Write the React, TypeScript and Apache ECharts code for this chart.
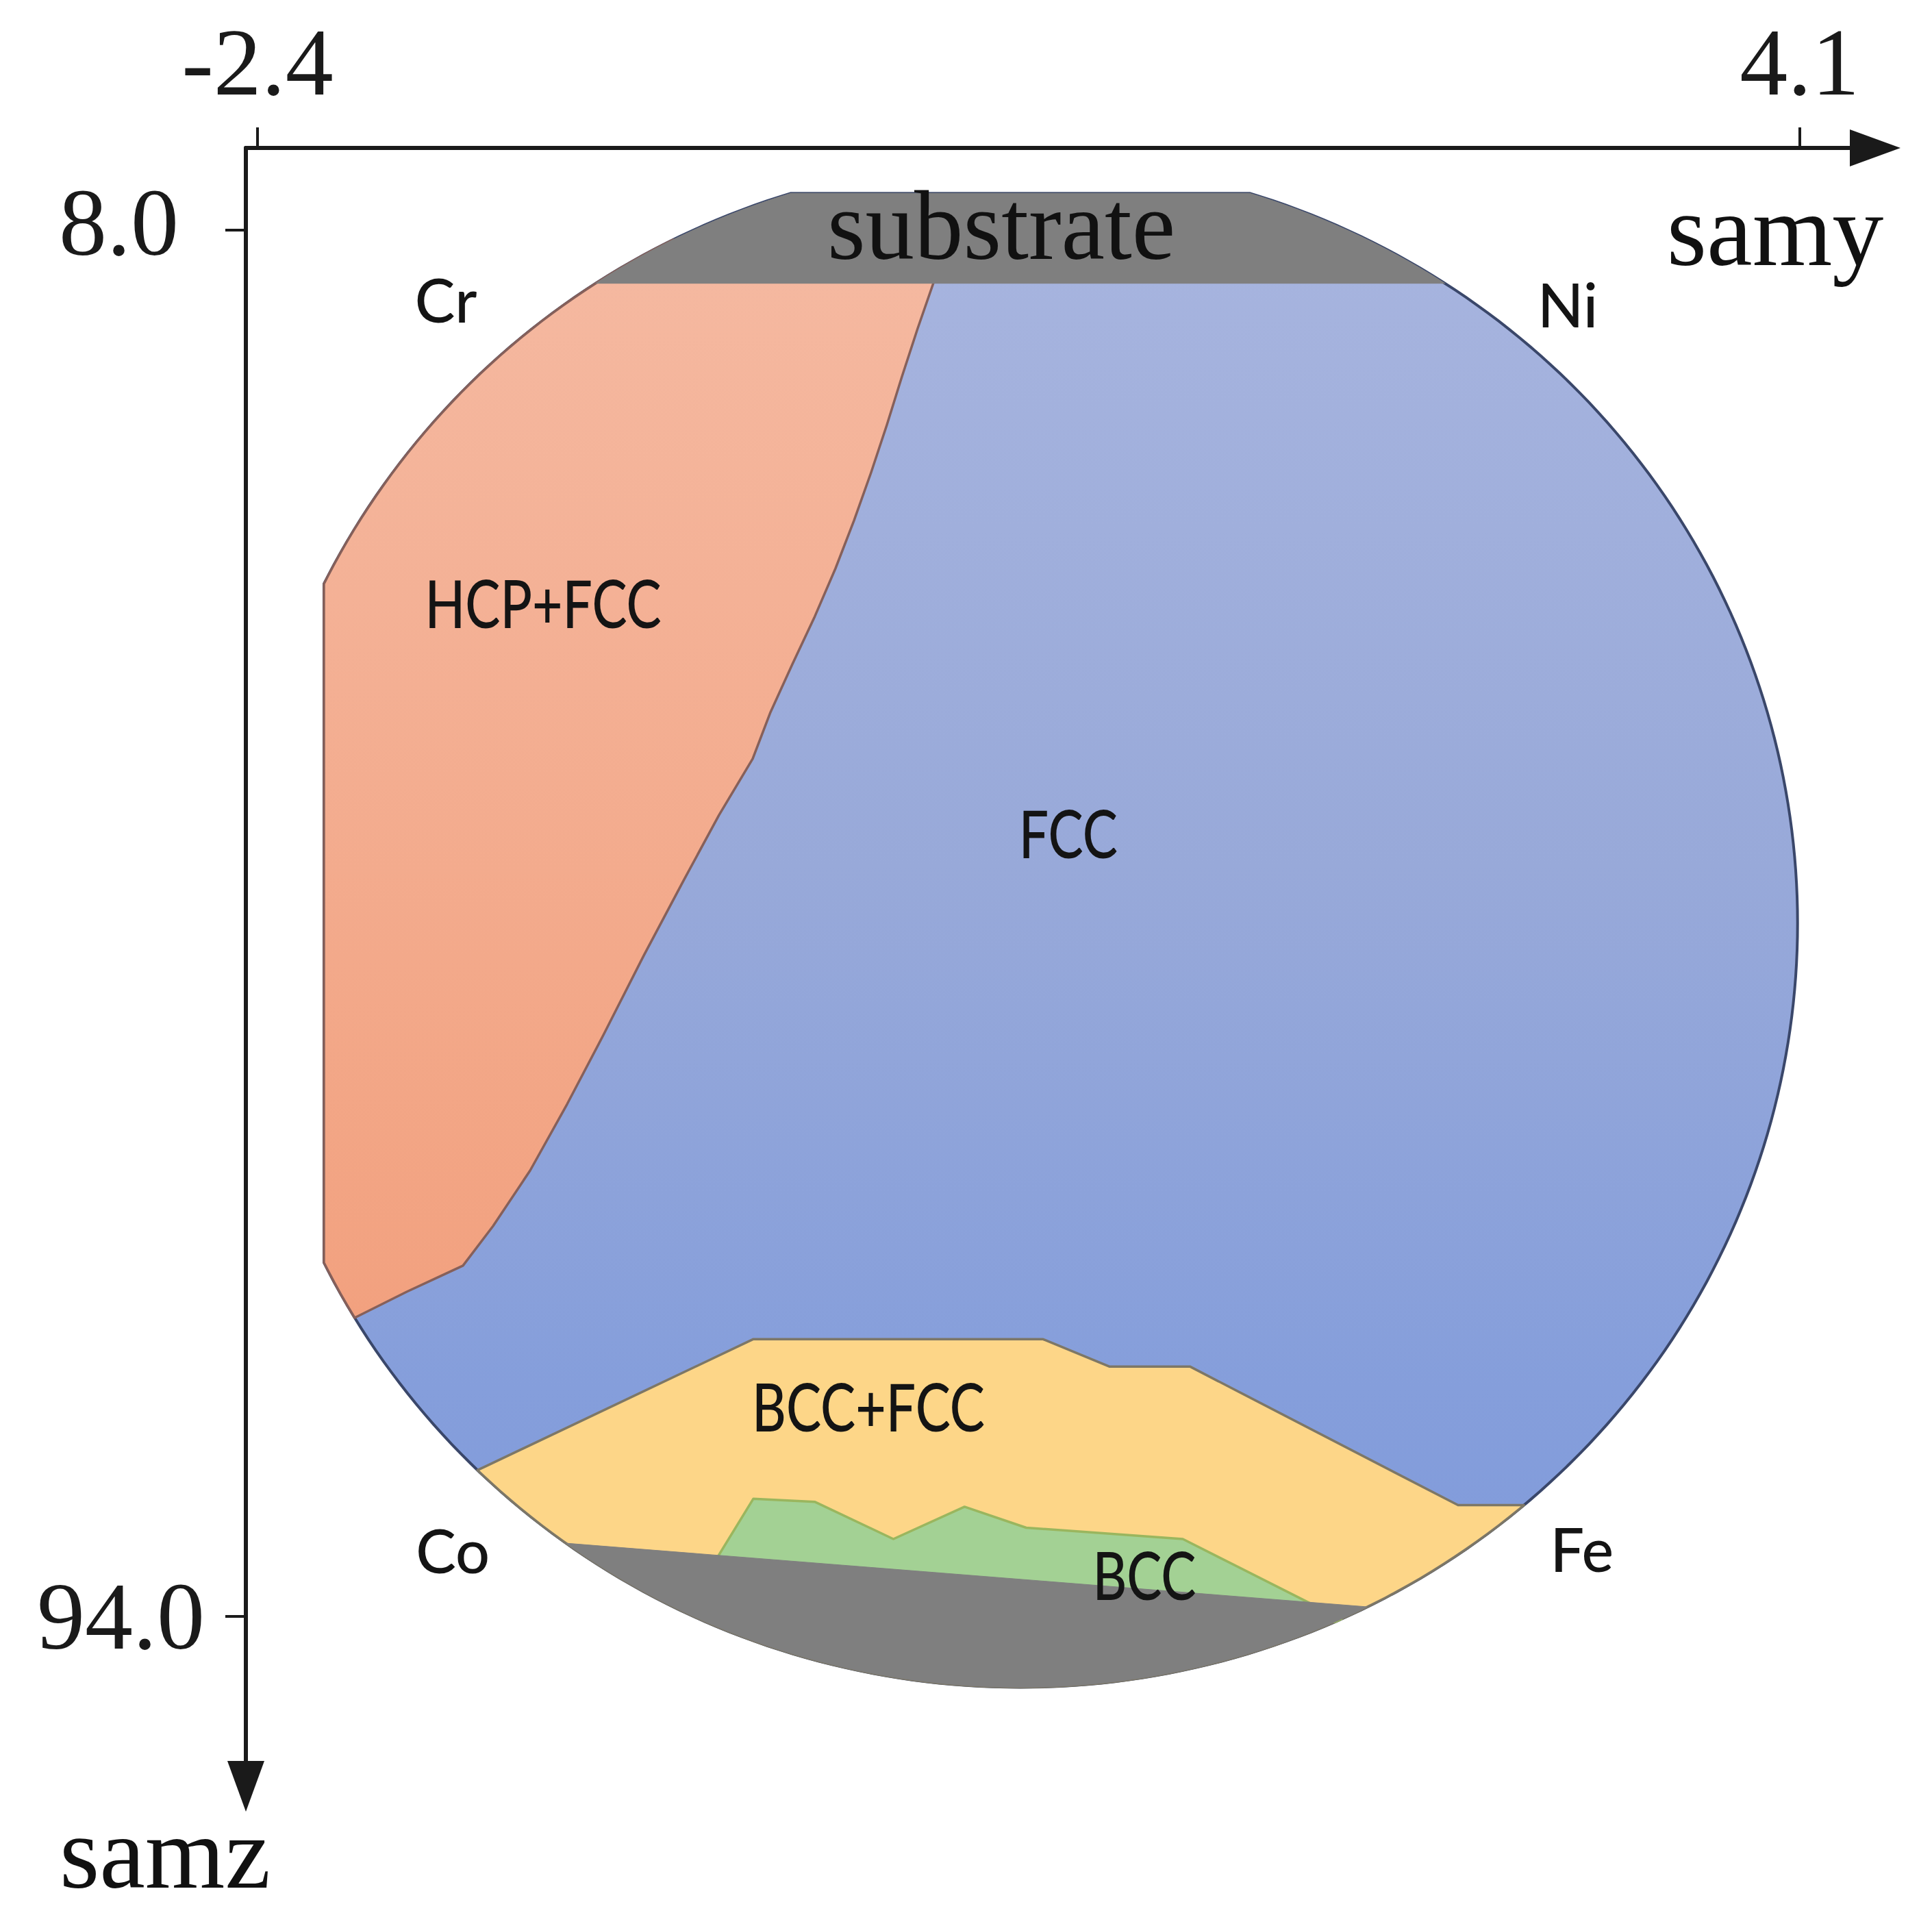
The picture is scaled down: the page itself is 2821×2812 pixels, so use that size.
import React, { useEffect, useRef } from "react";
import * as echarts from "echarts";

// ---------- axes (samy horizontal on top, samz vertical pointing down) ----------
const SAMY_TICKS = [-2.4, 4.1];
const SAMZ_TICKS = [8.0, 94.0];
const SAMY_MIN = -2.449;
const SAMY_MAX = 4.418;
const SAMZ_MIN = 2.9;
const SAMZ_MAX = 104.54;

// ---------- wafer outline (ellipse in data units, with two flats) ----------
const WAFER_CENTER = [0.815, 51.0];
const WAFER_RADII = [3.276, 47.4];
const WAFER_FLAT_SAMY = -2.12; // left flat
const WAFER_FLAT_SAMZ = 5.71; // top flat

// ---------- phase-region boundaries (samy, samz) ----------
const HCP_FCC_SAMY = [0.51, 0.449, 0.382, 0.316, 0.253, 0.186, 0.114, 0.036, -0.051, -0.146, -0.238, -0.313, -0.455, -0.605, -0.772, -0.942, -1.095, -1.251, -1.407, -1.534, -1.652, -1.771, -1.979, -2.331, -3.5, -3.5];
const HCP_FCC_SAMZ = [8.6, 11.27, 14.12, 17.09, 20.07, 23.04, 26.02, 28.99, 31.96, 34.94, 37.91, 40.8, 44.29, 48.37, 53.0, 57.93, 62.22, 66.34, 69.78, 72.24, 73.05, 73.86, 75.39, 77.98, 77.98, 8.6];

const BCC_FCC_SAMY = [-1.9, -1.44, -0.31, 0.91, 1.19, 1.53, 2.66, 2.88, 3.44, 3.44, -1.9];
const BCC_FCC_SAMZ = [87.9, 84.7, 76.8, 76.8, 78.5, 78.5, 87.1, 87.1, 87.1, 110, 110];

const BCC_SAMY = [-0.51, -0.31, -0.05, 0.28, 0.58, 0.84, 1.5, 2.2];
const BCC_SAMZ = [91.5, 86.7, 86.9, 89.2, 87.2, 88.5, 89.2, 94.4];

const SUBSTRATE_LOW_SAMY = [-1.75, 2.87, 2.87, -1.75];
const SUBSTRATE_LOW_SAMZ = [88.7, 94.1, 110, 110];

const SUBSTRATE_TOP_SAMY = [-3.5, 5, 5, -3.5];
const SUBSTRATE_TOP_SAMZ = [0, 0, 11.3, 11.3];

// ---------- labels ----------
const PHASE_LABELS = ["HCP+FCC", "FCC", "BCC+FCC", "BCC"];
const PHASE_LABEL_SAMY = [-1.196, 1.017, 0.175, 1.338];
const PHASE_LABEL_SAMZ = [31.1, 45.4, 80.95, 91.4];

const ELEMENT_LABELS = ["Cr", "Ni", "Co", "Fe"];
const ELEMENT_LABEL_SAMY = [-1.606, 3.122, -1.577, 3.182];
const ELEMENT_LABEL_SAMZ = [12.3, 12.6, 89.9, 89.8];

const SUBSTRATE_LABEL = "substrate";
const SUBSTRATE_LABEL_SAMY = 0.735;
const SUBSTRATE_LABEL_SAMZ = 7.75;

type P = [number, number];

const zip = (a: number[], b: number[]): P[] => a.map((v, i) => [v, b[i]] as P);

function clipBySide(poly: P[], side: (p: P) => number): P[] {
  const out: P[] = [];
  const n = poly.length;
  for (let k = 0; k < n; k++) {
    const cur = poly[k];
    const prev = poly[(k + n - 1) % n];
    const sc = side(cur);
    const sp = side(prev);
    const inter = (): P => {
      const t = sp / (sp - sc);
      return [prev[0] + t * (cur[0] - prev[0]), prev[1] + t * (cur[1] - prev[1])];
    };
    if (sc >= 0) {
      if (sp < 0) out.push(inter());
      out.push(cur);
    } else if (sp >= 0) {
      out.push(inter());
    }
  }
  return out;
}

function clipConvex(subject: P[], clip: P[]): P[] {
  let area = 0;
  for (let i = 0; i < clip.length; i++) {
    const a = clip[i];
    const b = clip[(i + 1) % clip.length];
    area += a[0] * b[1] - b[0] * a[1];
  }
  const s = Math.sign(area);
  let out = subject;
  for (let i = 0; i < clip.length && out.length; i++) {
    const a = clip[i];
    const b = clip[(i + 1) % clip.length];
    out = clipBySide(out, (p) => s * ((b[0] - a[0]) * (p[1] - a[1]) - (b[1] - a[1]) * (p[0] - a[0])));
  }
  return out;
}

function buildWafer(): P[] {
  const pts: P[] = [];
  const N = 360;
  for (let i = 0; i < N; i++) {
    const t = (2 * Math.PI * i) / N;
    pts.push([WAFER_CENTER[0] + WAFER_RADII[0] * Math.cos(t), WAFER_CENTER[1] + WAFER_RADII[1] * Math.sin(t)]);
  }
  let w = clipBySide(pts, (p) => p[0] - WAFER_FLAT_SAMY);
  w = clipBySide(w, (p) => p[1] - WAFER_FLAT_SAMZ);
  return w;
}

const lg = (stops: [number, string][]) => ({
  type: "linear",
  x: 0,
  y: 0,
  x2: 0,
  y2: 1,
  colorStops: stops.map(([offset, color]) => ({ offset, color })),
});

export default function App() {
  const ref = useRef<HTMLDivElement>(null);

  useEffect(() => {
    if (!ref.current) return;
    const chart = echarts.init(ref.current, undefined, { renderer: "svg" });

    const wafer = buildWafer();
    const regions = [
      {
        poly: wafer,
        fill: lg([[0, "#a8b5df"], [0.45, "#98a9d9"], [0.8, "#859edb"], [1, "#7f9adb"]]),
        stroke: "#3a476a",
        width: 4,
      },
      {
        poly: clipConvex(zip(HCP_FCC_SAMY, HCP_FCC_SAMZ), wafer),
        fill: lg([[0, "#f5b9a1"], [1, "#f2a17f"]]),
        stroke: "#86605a",
        width: 3.5,
      },
      {
        poly: clipConvex(zip(BCC_FCC_SAMY, BCC_FCC_SAMZ), wafer),
        fill: "#fdd688",
        stroke: "#7d7766",
        width: 3.5,
      },
      {
        poly: clipConvex(zip(BCC_SAMY, BCC_SAMZ), wafer),
        fill: "#a3d194",
        stroke: "#9ab65e",
        width: 3.5,
      },
      {
        poly: clipConvex(zip(SUBSTRATE_LOW_SAMY, SUBSTRATE_LOW_SAMZ), wafer),
        fill: "#7f7f7f",
        stroke: "#7f7f7f",
        width: 1,
      },
      {
        poly: clipConvex(zip(SUBSTRATE_TOP_SAMY, SUBSTRATE_TOP_SAMZ), wafer),
        fill: "#7f7f7f",
        stroke: "#7f7f7f",
        width: 1,
      },
    ];

    const labels = [
      ...PHASE_LABELS.map((t, i) => ({ t, y: PHASE_LABEL_SAMY[i], z: PHASE_LABEL_SAMZ[i], kind: "phase" })),
      ...ELEMENT_LABELS.map((t, i) => ({ t, y: ELEMENT_LABEL_SAMY[i], z: ELEMENT_LABEL_SAMZ[i], kind: "element" })),
      { t: SUBSTRATE_LABEL, y: SUBSTRATE_LABEL_SAMY, z: SUBSTRATE_LABEL_SAMZ, kind: "serif" },
    ];

    const axisLineStyle = { color: "#1a1a1a", width: 6 };
    const tickFont = { fontFamily: "Liberation Serif", fontSize: 140, color: "#1a1a1a" };

    chart.setOption({
      animation: false,
      grid: { left: 359, top: 216, right: 83, bottom: 204, containLabel: false, outerBoundsMode: "none" },
      xAxis: {
        type: "value",
        position: "top",
        min: SAMY_MIN,
        max: SAMY_MAX,
        axisLine: { show: true, onZero: false, lineStyle: axisLineStyle, symbol: ["none", "triangle"], symbolSize: [54, 74] },
        axisTick: { show: true, length: 30, lineStyle: { color: "#1a1a1a", width: 4 }, customValues: SAMY_TICKS },
        axisLabel: {
          ...tickFont,
          margin: 56,
          customValues: SAMY_TICKS,
          formatter: (v: number) => v.toFixed(1),
        },
        splitLine: { show: false },
      },
      yAxis: {
        type: "value",
        position: "left",
        inverse: true,
        min: SAMZ_MIN,
        max: SAMZ_MAX,
        axisLine: { show: true, onZero: false, lineStyle: axisLineStyle, symbol: ["triangle", "none"], symbolSize: [54, 74] },
        axisTick: { show: true, length: 30, lineStyle: { color: "#1a1a1a", width: 4 }, customValues: SAMZ_TICKS },
        axisLabel: {
          ...tickFont,
          margin: 60,
          customValues: SAMZ_TICKS,
          formatter: (v: number) => (v < 50 ? "{a|" + v.toFixed(1) + "}" : "{b|" + v.toFixed(1) + "}"),
          rich: {
            a: { ...tickFont, padding: [0, 38, 24, 0] },
            b: { ...tickFont },
          },
        },
        splitLine: { show: false },
      },
      graphic: [
        {
          type: "text",
          x: 2592,
          y: 336,
          style: { text: "samy", fontFamily: "Liberation Serif", fontSize: 150, fill: "#111", align: "center", verticalAlign: "middle", textAlign: "center", textVerticalAlign: "middle" },
        },
        {
          type: "text",
          x: 241,
          y: 2705,
          style: { text: "samz", fontFamily: "Liberation Serif", fontSize: 150, fill: "#111", align: "center", verticalAlign: "middle", textAlign: "center", textVerticalAlign: "middle" },
        },
      ],
      series: [
        {
          type: "custom",
          coordinateSystem: "cartesian2d",
          silent: true,
          data: regions.map((r) => r.poly[0] || [0, 0]),
          renderItem: (params: any, api: any) => {
            const r = regions[params.dataIndex];
            const pts = r.poly.map((p) => api.coord(p));
            return {
              type: "polygon",
              shape: { points: pts },
              style: { fill: r.fill, stroke: r.stroke, lineWidth: r.width, lineJoin: "round" },
            };
          },
        },
        {
          type: "custom",
          coordinateSystem: "cartesian2d",
          silent: true,
          z: 5,
          data: labels.map((l) => [l.y, l.z]),
          renderItem: (params: any, api: any) => {
            const l = labels[params.dataIndex];
            const pt = api.coord([l.y, l.z]);
            const isSerif = l.kind === "serif";
            const isPhase = l.kind === "phase";
            return {
              type: "text",
              x: pt[0],
              y: pt[1],
              scaleX: isSerif ? 1 : isPhase ? 0.8 : 1.0,
              style: {
                text: l.t,
                x: 0,
                y: 0,
                fontFamily: isSerif ? "Liberation Serif" : "Lato",
                fontWeight: isSerif ? "normal" : 500,
                fontSize: isSerif ? 143 : isPhase ? 96 : 88,
                fill: isSerif ? "#111" : "#141414",
                align: "center",
                verticalAlign: "middle",
                textAlign: "center",
                textVerticalAlign: "middle",
              },
            };
          },
        },
      ],
    });

    return () => chart.dispose();
  }, []);

  return (
    <div
      ref={ref}
      style={{ position: "absolute", left: 0, top: 0, width: "2821px", height: "2812px", background: "#fff" }}
    />
  );
}
